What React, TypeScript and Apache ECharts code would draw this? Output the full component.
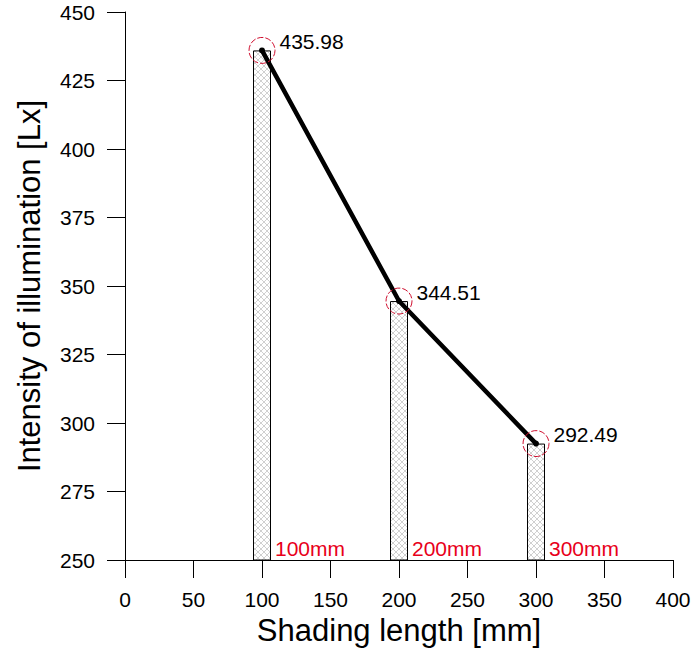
import React, { useEffect, useRef } from "react";
import * as echarts from "echarts";

const lengths = [100, 200, 300];
const illumination = [435.98, 344.51, 292.49];
const valueLabels = ["435.98", "344.51", "292.49"];
const lengthLabels = ["100mm", "200mm", "300mm"];
const xTicks = [0, 50, 100, 150, 200, 250, 300, 350, 400];
const yTicks = [250, 275, 300, 325, 350, 375, 400, 425, 450];

function makeHatch(): HTMLCanvasElement {
  const c = document.createElement("canvas");
  c.width = 6;
  c.height = 6;
  const ctx = c.getContext("2d")!;
  ctx.fillStyle = "#ffffff";
  ctx.fillRect(0, 0, 6, 6);
  ctx.strokeStyle = "#c4c4c4";
  ctx.lineWidth = 0.8;
  ctx.beginPath();
  ctx.moveTo(0, 0);
  ctx.lineTo(6, 6);
  ctx.moveTo(6, 0);
  ctx.lineTo(0, 6);
  ctx.stroke();
  return c;
}

export default function App() {
  const ref = useRef<HTMLDivElement>(null);
  useEffect(() => {
    document.body.style.margin = "0";
    document.body.style.overflow = "hidden";
    const chart = echarts.init(ref.current!, null, { renderer: "svg" });
    const pts = lengths.map((x, i) => [x, illumination[i]]);
    const font = "Arial, 'Liberation Sans', sans-serif";
    chart.setOption({
      animation: false,
      backgroundColor: "#ffffff",
      textStyle: { fontFamily: font },
      grid: {
        left: 125,
        right: 20,
        top: 12,
        bottom: 91,
        containLabel: false,
        outerBoundsMode: "none",
      },
      xAxis: {
        type: "value",
        min: xTicks[0],
        max: xTicks[xTicks.length - 1],
        interval: 50,
        name: "Shading length [mm]",
        nameLocation: "middle",
        nameGap: 55,
        nameTextStyle: { fontSize: 31, color: "#000", fontFamily: font },
        axisLine: { show: true, lineStyle: { color: "#000", width: 1 } },
        axisTick: { show: true, inside: false, length: 18, lineStyle: { color: "#000" } },
        axisLabel: { fontSize: 21, color: "#000", margin: 29, fontFamily: font },
        splitLine: { show: false },
      },
      yAxis: {
        type: "value",
        min: yTicks[0],
        max: yTicks[yTicks.length - 1],
        interval: 25,
        name: "Intensity of illumination [Lx]",
        nameLocation: "middle",
        nameGap: 80,
        nameTextStyle: { fontSize: 31, color: "#000", fontFamily: font },
        axisLine: { show: true, lineStyle: { color: "#000", width: 1 } },
        axisTick: { show: true, inside: false, length: 18, lineStyle: { color: "#000" } },
        axisLabel: { fontSize: 21, color: "#000", margin: 30, fontFamily: font },
        splitLine: { show: false },
      },
      series: [
        {
          type: "bar",
          data: pts,
          barWidth: 18,
          itemStyle: {
            color: { image: makeHatch(), repeat: "repeat" },
            borderColor: "#000",
            borderWidth: 1,
          },
          z: 1,
        },
        {
          type: "line",
          data: pts,
          symbol: "circle",
          symbolSize: 6,
          showSymbol: true,
          itemStyle: { color: "#000" },
          lineStyle: { color: "#000", width: 4.5 },
          z: 3,
        },
        {
          type: "scatter",
          data: pts.map((p, i) => ({ value: p, name: valueLabels[i] })),
          symbol: "circle",
          symbolSize: 26,
          itemStyle: {
            color: "rgba(0,0,0,0)",
            borderColor: "#d01030",
            borderWidth: 1,
            borderType: [6, 2],
            opacity: 1,
          },
          label: {
            show: true,
            position: "right",
            distance: 4,
            offset: [0, -9],
            formatter: (p: any) => p.name,
            fontSize: 21,
            color: "#000",
            opacity: 1,
            fontFamily: font,
          },
          z: 4,
        },
        {
          type: "scatter",
          data: lengths.map((x, i) => ({ value: [x, yTicks[0]], name: lengthLabels[i] })),
          symbolSize: 0,
          itemStyle: { opacity: 1 },
          label: {
            show: true,
            position: "right",
            distance: 5,
            offset: [8, -12],
            formatter: (p: any) => p.name,
            fontSize: 21,
            color: "#e8001a",
            opacity: 1,
            fontFamily: font,
          },
          z: 5,
        },
      ],
    });
    return () => chart.dispose();
  }, []);
  return (
    <div
      ref={ref}
      style={{ position: "absolute", left: 0, top: 0, width: 693, height: 651 }}
    />
  );
}
